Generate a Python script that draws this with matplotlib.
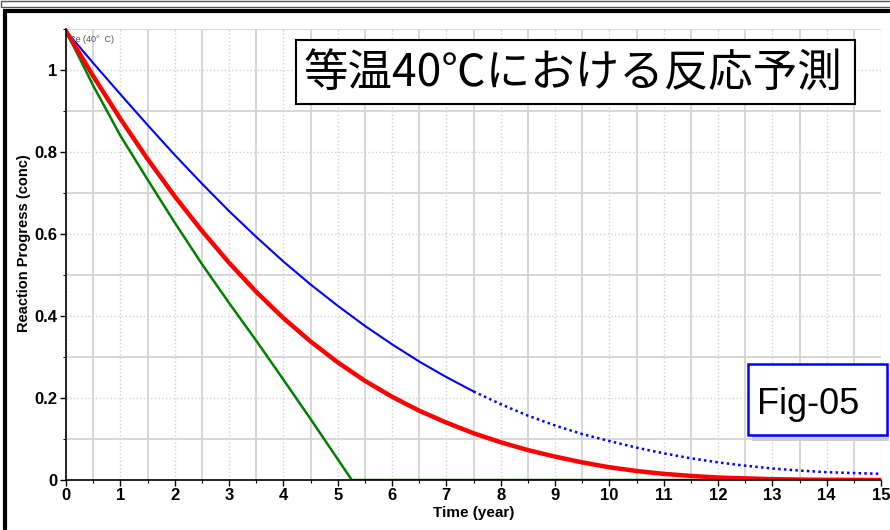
import matplotlib
matplotlib.use('Agg')
from matplotlib import pyplot as plt
from matplotlib.patches import Rectangle
from matplotlib.ticker import MultipleLocator

# time axis (year)
t = [0, 0.5, 1, 1.5, 2, 2.5, 3, 3.5, 4, 4.5, 5, 5.5, 6, 6.5, 7, 7.5,
     8, 8.5, 9, 9.5, 10, 10.5, 11, 11.5, 12, 12.5, 13, 13.5, 14, 14.5, 15]

blue = [1.095, 1.017, 0.941, 0.866, 0.793, 0.723, 0.656, 0.593, 0.533, 0.477,
        0.425, 0.376, 0.331, 0.289, 0.251, 0.216, 0.185, 0.157, 0.133, 0.112,
        0.095, 0.079, 0.065, 0.053, 0.043, 0.035, 0.028, 0.023, 0.019, 0.017, 0.015]

red = [1.095, 0.985, 0.881, 0.783, 0.692, 0.608, 0.530, 0.459, 0.395, 0.338,
       0.287, 0.242, 0.203, 0.169, 0.140, 0.114, 0.092, 0.073, 0.057, 0.043,
       0.031, 0.022, 0.015, 0.010, 0.006, 0.004, 0.002, 0.001, 0.0005, 0.0002, 0.0]

green_t = [0, 0.5, 1, 1.5, 2, 2.5, 3, 3.5, 4, 4.5, 5, 5.26, 6, 8, 10, 12, 15]
green = [1.095, 0.962, 0.84, 0.733, 0.628, 0.527, 0.432, 0.34, 0.245, 0.149,
         0.051, 0.0, 0.0, 0.0, 0.0, 0.0, 0.0]

title_text = '等温40℃における反応予測'
fig_label = 'Fig-05'

plt.rcParams['font.family'] = ['Liberation Sans', 'DejaVu Sans']

fig = plt.figure(figsize=(8.9, 5.3), dpi=100)
ax = fig.add_axes([66 / 890, 50 / 530, 815 / 890, 451 / 530])

# grid: half-steps solid, whole steps dotted
ax.xaxis.set_major_locator(MultipleLocator(1))
ax.xaxis.set_minor_locator(MultipleLocator(0.5))
ax.yaxis.set_major_locator(MultipleLocator(0.2))
ax.yaxis.set_minor_locator(MultipleLocator(0.1))
ax.grid(which='minor', color='#d4d4d4', linestyle='-', linewidth=1.3)
ax.grid(which='major', color='#cfcfcf', linestyle=':', linewidth=1.0)
ax.set_axisbelow(True)

split = t.index(7.5)
ax.plot(t[:split + 1], blue[:split + 1], color='#0000ff', lw=1.5)
ax.plot(t[split:], blue[split:], color='#0000ff', lw=1.8, linestyle=(0, (1, 1.3)))
ax.plot(green_t, green, color='#008000', lw=1.8)
ax.plot(t, red, color='#ff0000', lw=3.2)

ax.set_xlim(0, 15)
ax.set_ylim(0, 1.1)
ax.set_yticks([0, 0.2, 0.4, 0.6, 0.8, 1])
ax.set_yticklabels(['0', '0.2', '0.4', '0.6', '0.8', '1'])

for s in ['top', 'right']:
    ax.spines[s].set_visible(False)
ax.spines['left'].set_linewidth(1.2)
ax.spines['bottom'].set_linewidth(1.2)
ax.tick_params(axis='both', which='major', labelsize=12, length=4, width=1, pad=2)
ax.tick_params(axis='both', which='minor', length=2.5, width=0.8)
for lab in ax.get_xticklabels() + ax.get_yticklabels():
    lab.set_fontweight('bold')

ax.set_xlabel('Time (year)', fontsize=11, fontweight='bold', labelpad=2)
ax.set_ylabel('Reaction Progress (conc)', fontsize=10.5, fontweight='bold')
ax.yaxis.set_label_coords(-0.043, 0.525)

ax.text(0.06, 1.075, 'Re (40°  C)', fontsize=6.5, color='#555555', va='center')

# title box
fig.patches.append(Rectangle((296 / 890, 1 - 104 / 530), 559 / 890, 64 / 530,
                             transform=fig.transFigure, facecolor='white',
                             edgecolor='black', lw=1.5, zorder=5))
fig.text(573 / 890, 1 - 73 / 530, title_text, fontsize=32, ha='center', va='center',
         family=['Noto Sans CJK JP', 'DejaVu Sans'], zorder=6)

# Fig-05 box with shadow
fig.patches.append(Rectangle((752 / 890, 1 - 441 / 530), 137 / 890, 70 / 530,
                             transform=fig.transFigure, facecolor='#cccccc',
                             edgecolor='none', zorder=5))
fig.patches.append(Rectangle((748 / 890, 1 - 435 / 530), 139 / 890, 71 / 530,
                             transform=fig.transFigure, facecolor='white',
                             edgecolor='#0000ff', lw=1.8, zorder=6))
fig.text(808 / 890, 1 - 404 / 530, fig_label, fontsize=26, ha='center', va='center', zorder=7)

# outer frame
fig.patches.append(Rectangle((4.5 / 890, -0.05), 900 / 890, 1 - 11 / 530 + 0.05,
                             transform=fig.transFigure, facecolor='none',
                             edgecolor='black', lw=3, zorder=8))
fig.patches.append(Rectangle((1 / 890, 1 - 7 / 530), 900 / 890, 6 / 530,
                             transform=fig.transFigure, facecolor='none',
                             edgecolor='#555555', lw=1, zorder=8))

fig.savefig('out.png', dpi=100)
